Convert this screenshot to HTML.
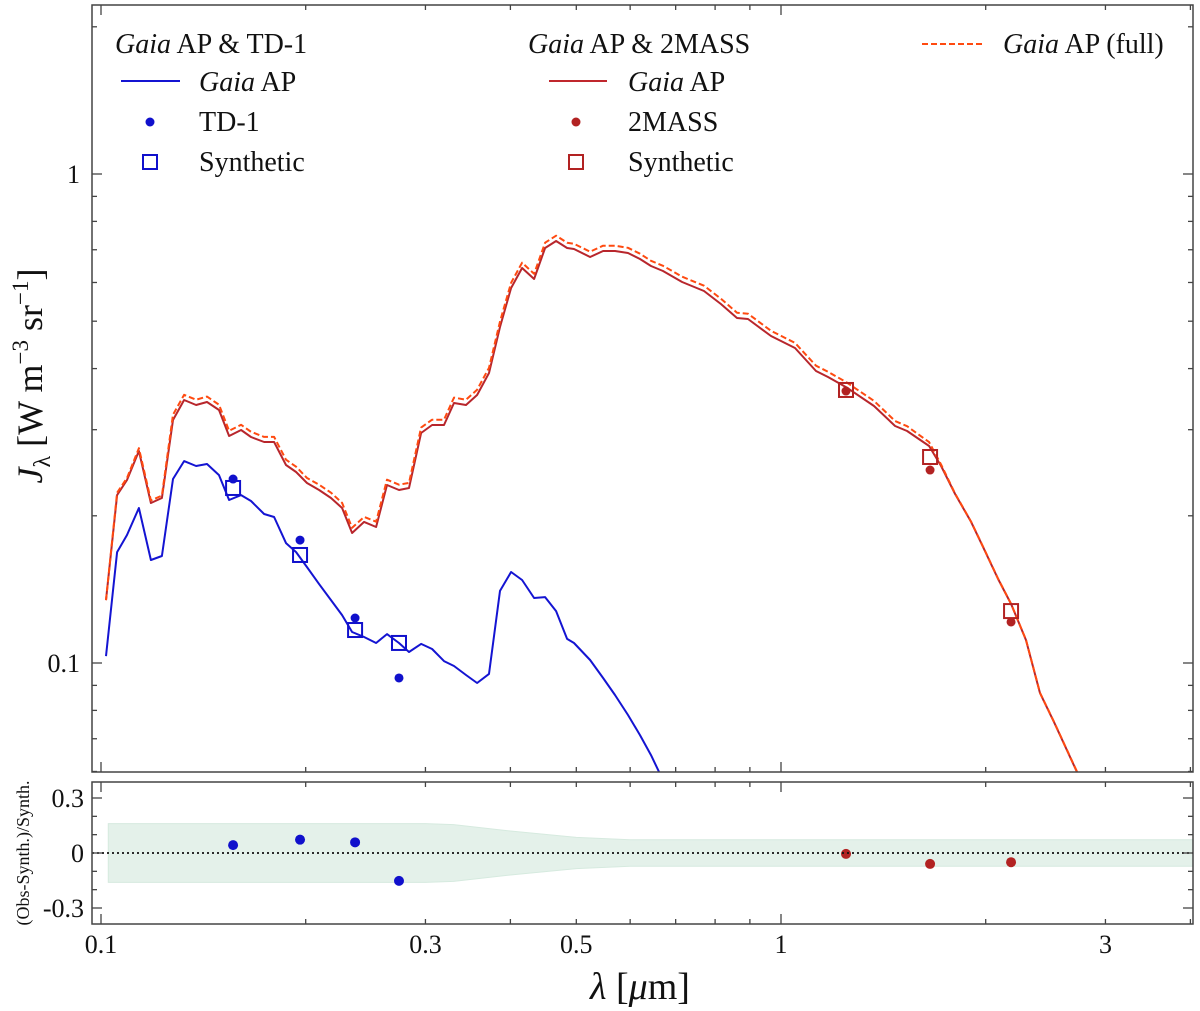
<!DOCTYPE html>
<html><head><meta charset="utf-8"><style>
html,body{margin:0;padding:0;background:#fff;}
svg{display:block;font-family:"Liberation Serif",serif;}
</style></head><body>
<svg id="chart" width="1200" height="1011" viewBox="0 0 1200 1011" xmlns="http://www.w3.org/2000/svg">
<defs>
<clipPath id="clipTop"><rect x="92" y="5" width="1101" height="767"/></clipPath>
<clipPath id="clipBot"><rect x="92" y="782" width="1101" height="142"/></clipPath>
</defs>
<g id="gBand" clip-path="url(#clipBot)"></g>
<g id="gTop" clip-path="url(#clipTop)"></g>
<g id="gBot" clip-path="url(#clipBot)"></g>
<g id="gAxes"></g>
<g font-size="28" fill="#111">
<text x="115" y="53"><tspan font-style="italic">Gaia</tspan> AP &amp; TD-1</text>
<line x1="121" y1="81" x2="180" y2="81" stroke="#1414d2" stroke-width="2"/>
<text x="199" y="91"><tspan font-style="italic">Gaia</tspan> AP</text>
<circle cx="150" cy="122" r="4.5" fill="#1010cc"/>
<text x="199" y="131">TD-1</text>
<rect x="143" y="155" width="14" height="14" fill="none" stroke="#1010cc" stroke-width="2"/>
<text x="199" y="171">Synthetic</text>
<text x="528" y="53"><tspan font-style="italic">Gaia</tspan> AP &amp; 2MASS</text>
<line x1="549" y1="81" x2="607" y2="81" stroke="#c0272d" stroke-width="2"/>
<text x="628" y="91"><tspan font-style="italic">Gaia</tspan> AP</text>
<circle cx="576" cy="122" r="4.5" fill="#b22222"/>
<text x="628" y="131">2MASS</text>
<rect x="569" y="155" width="14" height="14" fill="none" stroke="#b22222" stroke-width="2"/>
<text x="628" y="171">Synthetic</text>
<line x1="922" y1="44" x2="985" y2="44" stroke="#ff4a10" stroke-width="2" stroke-dasharray="6,3"/>
<text x="1003" y="53"><tspan font-style="italic">Gaia</tspan> AP (full)</text>
</g>
<text transform="translate(42,376) rotate(-90)" text-anchor="middle" font-size="36" fill="#111"><tspan font-style="italic">J</tspan><tspan font-size="24" dy="8">λ</tspan><tspan dy="-8"> [W m</tspan><tspan font-size="23" dy="-14">−3</tspan><tspan dy="14"> sr</tspan><tspan font-size="23" dy="-14">−1</tspan><tspan dy="14">]</tspan></text>
<text transform="translate(29,853) rotate(-90)" text-anchor="middle" font-size="18" fill="#111">(Obs-Synth.)/Synth.</text>
<text x="640" y="999" text-anchor="middle" font-size="38" fill="#111"><tspan font-style="italic">λ</tspan> [<tspan font-style="italic">μ</tspan>m]</text>
</svg>
<script>
const lam = [0.1017,0.1056,0.1092,0.1137,0.1184,0.1229,0.1276,0.1325,0.1380,0.1432,0.1491,0.1543,0.1607,0.1662,0.1737,0.1797,0.1871,0.1936,0.2009,0.2093,0.2179,0.2262,0.2340,0.2437,0.2538,0.2634,0.2743,0.2838,0.2956,0.3068,0.3195,0.3305,0.3442,0.3573,0.3721,0.3862,0.4009,0.4161,0.4334,0.4498,0.4669,0.4846,0.4962,0.5239,0.5475,0.5701,0.5957,0.6204,0.6439,0.6706,
0.7153,0.7704,0.8160,0.8615,0.8942,0.9667,1.0485,1.1258,1.1725,1.2462,1.3703,1.4717,1.5327,1.6510,1.7195,1.8030,1.9033,1.9822,2.0855,2.1793,2.2928,2.4040,2.5205,2.7163,2.8482];
const blueAP = [0.1033,0.1686,0.1827,0.2075,0.1624,0.1655,0.2378,0.2588,0.2528,0.2552,0.2423,0.2154,0.2205,0.2144,0.2017,0.1989,0.1759,0.1686,0.1571,0.1450,0.1345,0.1253,0.1157,0.1130,0.1099,0.1146,0.1099,0.1053,0.1094,0.1068,0.1009,0.0986,0.0945,0.0910,0.0950,0.1404,0.1535,0.1478,0.1358,0.1364,0.1277,0.1120,0.1099,0.1014,0.0932,0.0860,0.0783,0.0712,0.0648,0.0576];
const redAP = [0.1345,0.2205,0.2367,0.2713,0.2124,0.2175,0.3140,0.3450,0.3370,0.3418,0.3292,0.2912,0.2996,0.2899,0.2831,0.2831,0.2540,0.2458,0.2334,0.2258,0.2175,0.2075,0.1844,0.1943,0.1897,0.2312,0.2258,0.2280,0.2954,0.3067,0.3067,0.3402,0.3370,0.3532,0.3918,0.4866,0.5846,0.6424,0.6099,0.7058,0.7295,0.7058,0.7025,0.6766,0.6959,0.6959,0.6894,0.6700,0.6483,0.6334,
0.6014,0.5764,0.5422,0.5077,0.5053,0.4664,0.4407,0.3955,0.3845,0.3667,0.3354,0.3052,0.2982,0.2778,0.2528,0.2216,0.1943,0.1726,0.1485,0.1320,0.1114,0.0868,0.0757,0.0604,0.0525];
const fullAP = [0.1345,0.2230,0.2390,0.2750,0.2150,0.2200,0.3220,0.3535,0.3455,0.3505,0.3375,0.2985,0.3070,0.2970,0.2900,0.2900,0.2605,0.2520,0.2390,0.2315,0.2230,0.2125,0.1890,0.1990,0.1945,0.2370,0.2315,0.2335,0.3030,0.3145,0.3145,0.3490,0.3455,0.3620,0.4015,0.4990,0.5990,0.6585,0.6250,0.7235,0.7480,0.7235,0.7200,0.6935,0.7135,0.7135,0.7065,0.6870,0.6645,0.6490,
0.6165,0.5910,0.5560,0.5205,0.5180,0.4780,0.4515,0.4055,0.3940,0.3755,0.3435,0.3125,0.3050,0.2830,0.2545,0.2220,0.1945,0.1728,0.1487,0.1321,0.1115,0.0869,0.0758,0.0605,0.0526];
const td1Lam = [0.1564,0.1962,0.2364,0.2743];
const td1Obs = [0.2378,0.1784,0.1236,0.0932];
const td1Syn = [0.2280,0.1663,0.1168,0.1099];
const tmLam = [1.2462,1.6566,2.1793];
const tmObs = [0.3599,0.2481,0.1213];
const tmSyn = [0.3617,0.2638,0.1277];
const bandLam = [0.1025,0.30,0.33,0.40,0.50,0.60,4.2];
const bandHalf = [0.16,0.16,0.155,0.12,0.085,0.072,0.072];
const xTickLabels = [0.1,0.3,0.5,1,3];
const yTickLabels = [0.1,1];
const rTickLabels = [-0.3,0,0.3];

const NS='http://www.w3.org/2000/svg';
const X=l=>101+680*(Math.log10(l)+1);
const Y=j=>174-489*Math.log10(j);
const R=r=>853-r/0.3*55;
const L=92,RT=1193,T1=5,B1=772,T2=782,B2=924;
function mk(tag,attrs,parent){const e=document.createElementNS(NS,tag);for(const k in attrs)e.setAttribute(k,attrs[k]);parent.appendChild(e);return e;}
const gTop=document.getElementById('gTop'),gBot=document.getElementById('gBot'),gAx=document.getElementById('gAxes'),gBand=document.getElementById('gBand');

let bp=bandLam.map((l,i)=>X(l)+','+R(bandHalf[i]));
let bn=bandLam.map((l,i)=>X(l)+','+R(-bandHalf[i])).reverse();
const band=mk('polygon',{points:bp.concat(bn).join(' '),fill:'#e4f1ea',stroke:'#d6eadf','stroke-width':1},gBand);



function line(vals,color,dash,name){
  const pts=vals.map((v,i)=>X(lam[i]).toFixed(1)+','+Y(v).toFixed(1)).join(' ');
  const p=mk('polyline',{points:pts,fill:'none',stroke:color,'stroke-width':2,'stroke-linejoin':'round'},gTop);
  if(dash)p.setAttribute('stroke-dasharray',dash);
  
  
}
line(redAP,'#b8262c',null,'gaia-ap-2mass-line');
line(fullAP,'#ff4a10','6,3','gaia-ap-full-line');
line(blueAP,'#1414d2',null,'gaia-ap-td1-line');

function markers(ls,obs,syn,color,nm){
  ls.forEach((l,i)=>{
    const s=mk('rect',{x:X(l)-7,y:Y(syn[i])-7,width:14,height:14,fill:'none',stroke:color,'stroke-width':2},gTop);
    
    
    const c=mk('circle',{cx:X(l),cy:Y(obs[i]),r:4.5,fill:color},gTop);
    
    
    const rr=mk('circle',{cx:X(l),cy:R(obs[i]/syn[i]-1),r:5,fill:color},gBot);
    
    
  });
}
markers(td1Lam,td1Obs,td1Syn,'#1010cc','td1');
markers(tmLam,tmObs,tmSyn,'#b22222','2mass');

const zl=mk('line',{x1:L,x2:RT,y1:R(0),y2:R(0),stroke:'#111','stroke-width':1.8,'stroke-dasharray':'2,3'},gBot);



[[T1,B1],[T2,B2]].forEach(([t,b],k)=>{
  const f=mk('rect',{x:L,y:t,width:RT-L,height:b-t,fill:'none',stroke:'#444','stroke-width':1.5},gAx);
  
  
});
function tk(x1,y1,x2,y2){mk('line',{x1,y1,x2,y2,stroke:'#444','stroke-width':1.3},gAx);}
const xt=[];
for(let d of [0.1,1]) for(let m=1;m<=9;m++){const v=d*m; if(v<=4.1) xt.push(v);}
xt.forEach(v=>{
  const x=X(v),maj=(Math.abs(v-0.1)<1e-9||Math.abs(v-1)<1e-9),len=maj?10:5;
  if(x<L||x>RT)return;
  tk(x,B1,x,B1-len);tk(x,T1,x,T1+len);tk(x,B2,x,B2-len);tk(x,T2,x,T2+len);
});
xTickLabels.forEach(v=>{
  const t=mk('text',{x:X(v),y:953,'text-anchor':'middle','font-size':26,fill:'#111'},gAx);
  t.textContent=String(v);
  
  
});
for(let d of [0.01,0.1,1]) for(let m=1;m<=9;m++){const v=d*m;const y=Y(v);if(y<T1||y>B1)continue;
  const maj=(m===1),len=maj?10:5; tk(L,y,L+len,y);tk(RT,y,RT-len,y);}
yTickLabels.forEach(v=>{
  const t=mk('text',{x:80,y:Y(v)+9,'text-anchor':'end','font-size':26,fill:'#111'},gAx);
  t.textContent=String(v);
  
  
});
for(let i=-3;i<=3;i++){const y=R(i*0.1);const len=(i%3===0)?10:5;tk(L,y,L+len,y);tk(RT,y,RT-len,y);}
rTickLabels.forEach(v=>{
  const t=mk('text',{x:84,y:R(v)+9,'text-anchor':'end','font-size':26,fill:'#111'},gAx);
  t.textContent=String(v);
  
  
});
</script>
</body></html>
